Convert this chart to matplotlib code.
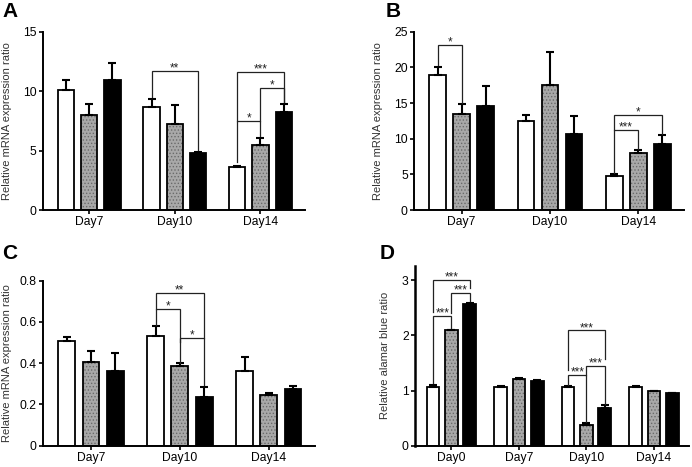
import matplotlib
matplotlib.use('Agg')
import matplotlib.pyplot as plt
import numpy as np

plt.rcParams['font.family'] = ['Liberation Sans', 'DejaVu Sans']
plt.rcParams['hatch.linewidth'] = 0.6

# categories
days_abc = ['Day7', 'Day10', 'Day14']
days_d = ['Day0', 'Day7', 'Day10', 'Day14']

# panel A
a_white = [10.1, 8.7, 3.6]
a_gray = [8.0, 7.2, 5.5]
a_black = [10.9, 4.8, 8.25]
a_white_err = [0.8, 0.65, 0.13]
a_gray_err = [0.9, 1.65, 0.6]
a_black_err = [1.45, 0.12, 0.65]

# panel B
b_white = [18.9, 12.5, 4.7]
b_gray = [13.4, 17.5, 7.95]
b_black = [14.6, 10.65, 9.25]
b_white_err = [1.2, 0.85, 0.35]
b_gray_err = [1.45, 4.7, 0.45]
b_black_err = [2.8, 2.5, 1.2]

# panel C
c_white = [0.509, 0.533, 0.360]
c_gray = [0.404, 0.385, 0.247]
c_black = [0.364, 0.234, 0.275]
c_white_err = [0.016, 0.046, 0.071]
c_gray_err = [0.056, 0.014, 0.008]
c_black_err = [0.084, 0.052, 0.016]

# panel D
d_white = [1.06, 1.06, 1.06, 1.06]
d_gray = [2.09, 1.21, 0.38, 0.99]
d_black = [2.57, 1.18, 0.69, 0.95]
d_white_err = [0.04, 0.015, 0.015, 0.015]
d_gray_err = [0.015, 0.015, 0.04, 0.01]
d_black_err = [0.02, 0.01, 0.04, 0.01]

# significance brackets: (group, bar1, bar2, top, left leg end, right leg end, label)
sig_a = [(1, 0, 2, 11.72, 9.5, 5.05, '**'),
         (2, 0, 2, 11.63, 7.51, 9.05, '***'),
         (2, 1, 2, 10.23, 7.51, 9.05, '*'),
         (2, 0, 1, 7.51, 4.0, 6.25, '*')]
sig_b = [(0, 0, 1, 23.13, 20.3, 15.0, '*'),
         (2, 0, 2, 13.32, 11.21, 10.6, '*'),
         (2, 0, 1, 11.21, 5.2, 8.55, '***')]
sig_c = [(1, 0, 2, 0.742, 0.661, 0.521, '**'),
         (1, 0, 1, 0.661, 0.585, 0.504, '*'),
         (1, 1, 2, 0.521, 0.40, 0.294, '*')]
sig_d = [(0, 0, 2, 3.01, 2.42, 2.87, '***'),
         (0, 1, 2, 2.77, 2.40, 2.62, '***'),
         (0, 0, 1, 2.36, 1.14, 2.14, '***'),
         (2, 0, 2, 2.09, 1.37, 1.58, '***'),
         (2, 1, 2, 1.45, 1.28, 0.75, '***'),
         (2, 0, 1, 1.28, 1.11, 0.43, '***')]

W = 0.19
STEP = 0.272


def draw_panel(ax, days, series, errs, sigs, ylim, yticks, yticklabels, ylabel, label_x):
    x = np.arange(len(days))
    offsets = [-STEP, 0, STEP]
    for k, (vals, err) in enumerate(zip(series, errs)):
        xs = x + offsets[k]
        if k == 0:
            ax.bar(xs, vals, W, color='white', edgecolor='black', linewidth=1.3, zorder=2)
        elif k == 1:
            ax.bar(xs, vals, W, color='#a8a8a8', edgecolor='#6a6a6a', hatch='.....',
                   linewidth=0, zorder=2)
            ax.bar(xs, vals, W, color='none', edgecolor='black', linewidth=1.3, zorder=3)
        else:
            ax.bar(xs, vals, W, color='black', edgecolor='black', linewidth=1.3, zorder=2)
        ax.errorbar(xs, vals, yerr=[np.zeros(len(vals)), err], fmt='none',
                    ecolor='black', elinewidth=1.5, capsize=3, capthick=1.5, zorder=4)

    for g, i, j, top, yl, yr, txt in sigs:
        x1 = g + offsets[i]
        x2 = g + offsets[j]
        ax.plot([x1, x1, x2, x2], [yl, top, top, yr], color='#222222', lw=0.9,
                solid_joinstyle='miter', zorder=5)
        ax.annotate(txt, ((x1 + x2) / 2, top), xytext=(0, -2.5), textcoords='offset points',
                    ha='center', va='bottom', fontsize=8.5, color='#222222')

    ax.set_xlim(-0.54, len(days) - 1 + 0.52)
    ax.set_ylim(*ylim)
    ax.set_xticks(x)
    ax.set_xticklabels(days, fontsize=8.7)
    ax.set_yticks(yticks)
    ax.set_yticklabels(yticklabels, fontsize=8.7)
    ax.set_ylabel(ylabel, fontsize=8, color='#333333')
    ax.yaxis.set_label_coords(label_x, 0.5)
    for s in ['top', 'right']:
        ax.spines[s].set_visible(False)
    for s in ['left', 'bottom']:
        ax.spines[s].set_linewidth(1.4)
    ax.tick_params(axis='both', direction='out', length=3, width=1.2, pad=1.5, colors='black')


fig = plt.figure(figsize=(6.92, 4.67), dpi=100)
axA = fig.add_axes([0.0621, 0.5503, 0.3786, 0.3818])
axB = fig.add_axes([0.5983, 0.5503, 0.3902, 0.3818])
axC = fig.add_axes([0.0621, 0.0456, 0.3931, 0.3533])
axD = fig.add_axes([0.5997, 0.0456, 0.3960, 0.3848])

draw_panel(axA, days_abc, [a_white, a_gray, a_black], [a_white_err, a_gray_err, a_black_err],
           sig_a, (0, 15), [0, 5, 10, 15], ['0', '5', '10', '15'],
           'Relative mRNA expression ratio', -0.118)
draw_panel(axB, days_abc, [b_white, b_gray, b_black], [b_white_err, b_gray_err, b_black_err],
           sig_b, (0, 25), [0, 5, 10, 15, 20, 25], ['0', '5', '10', '15', '20', '25'],
           'Relative mRNA expression ratio', -0.114)
draw_panel(axC, days_abc, [c_white, c_gray, c_black], [c_white_err, c_gray_err, c_black_err],
           sig_c, (0, 0.8), [0, 0.2, 0.4, 0.6, 0.8], ['0', '0.2', '0.4', '0.6', '0.8'],
           'Relative mRNA expression ratio', -0.115)
draw_panel(axD, days_d, [d_white, d_gray, d_black], [d_white_err, d_gray_err, d_black_err],
           sig_d, (0, 3.26), [0, 1, 2, 3], ['0', '1', '2', '3'],
           'Relative alamar blue ratio', -0.091)
axD.spines['left'].set_linewidth(1.8)

for lab, (px, py) in zip('ABCD', [(2, 2), (386, 2), (2, 244), (380, 244)]):
    fig.text(px / 692, 1 - py / 467, lab, fontsize=15, fontweight='bold', va='top', ha='left')

fig.savefig('out.png', dpi=100)
